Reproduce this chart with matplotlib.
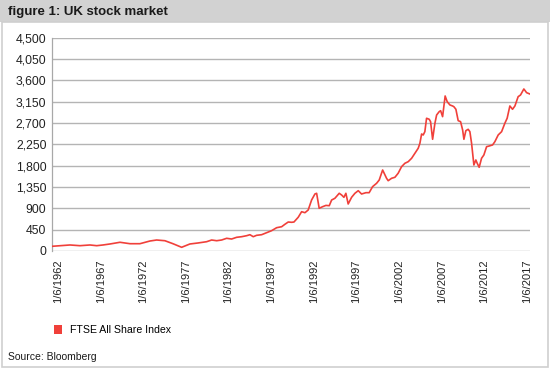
import matplotlib
matplotlib.use("Agg")
import matplotlib.pyplot as plt
from matplotlib.patches import Patch, Rectangle
from matplotlib import font_manager

title = "figure 1: UK stock market"
series_name = "FTSE All Share Index"
source = "Source: Bloomberg"

years = [1961.30, 1962.23, 1963.41, 1964.58, 1965.75, 1966.54, 1967.28, 1968.10, 1969.27, 1970.44,
         1971.61, 1972.79, 1973.57, 1974.54, 1975.48, 1976.50, 1977.47, 1978.41, 1979.43, 1980.02,
         1980.61, 1981.19, 1981.78, 1982.36, 1982.95, 1983.54, 1984.12, 1984.51, 1984.90, 1985.29,
         1985.88, 1986.47, 1987.05, 1987.64, 1988.23, 1988.61, 1989.00, 1989.40, 1989.67, 1990.17,
         1990.57, 1990.96, 1991.34, 1991.74, 1992.13, 1992.33, 1992.63, 1993.03, 1993.42, 1993.81,
         1994.09, 1994.47, 1994.98, 1995.26, 1995.53, 1995.76, 1996.03, 1996.43, 1996.82, 1997.21,
         1997.60, 1998.11, 1998.49, 1998.89, 1999.36, 1999.67, 2000.07, 2000.53, 2000.72, 2001.12,
         2001.51, 2001.89, 2002.29, 2002.68, 2003.07, 2003.47, 2003.85, 2004.24, 2004.44, 2004.64,
         2004.83, 2005.02, 2005.22, 2005.53, 2005.69, 2005.93, 2006.20, 2006.40, 2006.70, 2006.87,
         2007.10, 2007.25, 2007.40, 2007.64, 2007.96, 2008.27, 2008.42, 2008.66, 2008.93, 2009.21,
         2009.45, 2009.60, 2009.83, 2010.10, 2010.30, 2010.50, 2010.77, 2011.00, 2011.16, 2011.39,
         2011.67, 2011.94, 2012.26, 2012.56, 2012.96, 2013.23, 2013.62, 2014.02, 2014.40, 2014.67,
         2014.99, 2015.30, 2015.58, 2015.96, 2016.24, 2016.63, 2016.95, 2017.33]

values = [95, 108, 123, 108, 123, 108, 123, 144, 180, 150,
          150, 207, 228, 213, 150, 74, 144, 165, 192, 228,
          213, 228, 264, 249, 285, 298, 319, 340, 298, 327,
          340, 382, 425, 488, 509, 560, 608, 602, 608, 708,
          826, 805, 862, 1073, 1200, 1215, 898, 932, 959, 953,
          1073, 1109, 1215, 1179, 1130, 1215, 989, 1130, 1215, 1270,
          1200, 1228, 1228, 1355, 1426, 1496, 1707, 1532, 1481, 1532,
          1553, 1638, 1777, 1849, 1883, 1955, 2060, 2166, 2271, 2468,
          2447, 2517, 2800, 2779, 2728, 2356, 2694, 2869, 2939, 2960,
          2834, 3045, 3271, 3150, 3081, 3060, 3045, 2990, 2749, 2728,
          2553, 2356, 2538, 2567, 2517, 2271, 1813, 1919, 1849, 1764,
          1955, 2024, 2200, 2214, 2236, 2305, 2447, 2517, 2694, 2800,
          3060, 2990, 3060, 3256, 3292, 3419, 3341, 3313]

tick_years = [1962, 1967, 1972, 1977, 1982, 1987, 1992, 1997, 2002, 2007, 2012, 2017]
tick_labels = ["1/6/%d" % y for y in tick_years]
y_ticks = [0, 450, 900, 1350, 1800, 2250, 2700, 3150, 3600, 4050, 4500]

avail = {f.name for f in font_manager.fontManager.ttflist}
narrow = ["Liberation Sans Narrow", "Liberation Sans", "DejaVu Sans"]
narrow = [f for f in narrow if f in avail] or ["DejaVu Sans"]
sans = ["Liberation Sans", "DejaVu Sans"]

line_color = "#f0403a"

fig = plt.figure(figsize=(5.5, 3.69), dpi=100)
fig.patch.set_facecolor("white")

# title band and frame
fig.add_artist(Rectangle((0, 1 - 22 / 369), 1, 22 / 369, transform=fig.transFigure,
                         facecolor="#d2d2d2", edgecolor="none", zorder=0))
fig.add_artist(Rectangle((1.5 / 550, 2.5 / 369), 546.5 / 550, (369 - 22 - 2.5) / 369,
                         transform=fig.transFigure, facecolor="none",
                         edgecolor="#cfcfcf", lw=1.2, zorder=0))
fig.text(8 / 550, 1 - 11.5 / 369, title, fontsize=9.5, fontweight="bold",
         family=narrow, va="center", ha="left", color="#1a1a1a")

ax = fig.add_axes([52 / 550, 118.2 / 369, 478 / 550, 213 / 369])
ax.plot(years, values, color=line_color, lw=1.2, label=series_name, zorder=3)
ax.set_xlim(1961.3, 2017.35)
ax.set_ylim(0, 4500)
ax.set_yticks(y_ticks)
ax.set_yticklabels(["{:,}".format(v) for v in y_ticks], family=narrow, fontsize=8.8, color="#222222")
ax.set_xticks(tick_years)
ax.set_xticklabels(tick_labels, rotation=90, family=sans, fontsize=8, color="#222222")
ax.grid(axis="y", color="#b4b4b4", lw=1)
ax.set_axisbelow(True)
for s in ["top", "right", "bottom"]:
    ax.spines[s].set_visible(False)
ax.spines["left"].set_color("#a8a8a8")
ax.spines["left"].set_linewidth(0.9)
ax.tick_params(axis="y", length=0, pad=4)
ax.tick_params(axis="x", length=0, pad=6)

handle = Patch(facecolor=line_color, edgecolor="none", label=series_name)
leg = fig.legend(handles=[handle], loc="center left", bbox_to_anchor=(44 / 550, 1 - 330 / 369),
                 frameon=False, handlelength=0.85, handleheight=0.85, handletextpad=0.7,
                 prop={"family": narrow, "size": 7.6})

fig.text(8 / 550, 1 - 357 / 369, source, fontsize=7.5, family=sans, va="center", ha="left",
         color="#1a1a1a")

fig.savefig("out.png", dpi=100, facecolor="white")
